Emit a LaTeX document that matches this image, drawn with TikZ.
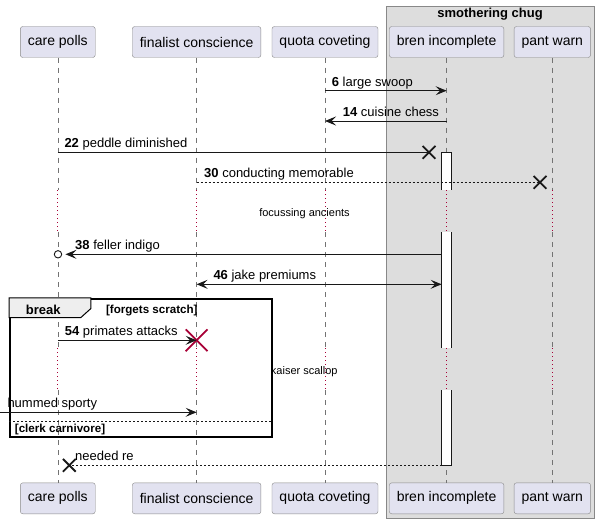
\documentclass[tikz,border=0pt]{standalone}
\usepackage{fontspec}
\setmainfont{Liberation Sans}
\usepackage{tikz}
\usetikzlibrary{arrows.meta}
\usetikzlibrary{shapes.misc}
\usetikzlibrary{positioning}
\usetikzlibrary{calc}
\definecolor{partfill}{HTML}{E2E2F0}
\definecolor{partline}{HTML}{888888}
\definecolor{chugfill}{HTML}{DDDDDD}
\definecolor{tabfill}{HTML}{EEEEEE}
\definecolor{umlred}{HTML}{A80036}
\definecolor{umlink}{HTML}{181818}
\tikzset{
  % Common looks for the sequence diagram
  >={Stealth[length=11pt,width=9pt,inset=4.5pt]},
  participant/.style={draw=partline, fill=partfill, rounded corners=2.5pt,
    minimum height=31pt, inner xsep=7.5pt, font=\fontsize{14}{16}\selectfont},
  lifeline/.style={draw=black!55, dash pattern=on 5pt off 5pt, line width=0.6pt},
  delayline/.style={draw=umlred, dash pattern=on 1pt off 3pt, line width=0.8pt},
  msg/.style={draw=umlink, line width=0.9pt},
  reply/.style={msg, dash pattern=on 2pt off 2pt},
  msglbl/.style={anchor=base west, inner sep=0pt, font=\fontsize{13}{15}\selectfont},
  delaylbl/.style={anchor=base, inner sep=0pt, font=\fontsize{11}{13}\selectfont},
  killmark/.style={cross out, draw=umlink, line width=1.8pt, minimum size=11pt, inner sep=0pt}
}

\begin{document}
\begin{tikzpicture}[
    x=1pt, y=-1pt,
    chugbox/.style={draw=partline, fill=chugfill, minimum width=208.6pt, minimum height=512.3pt, inner sep=0pt},
    actbar/.style={fill=white, minimum width=10pt, inner sep=0pt, outer sep=0pt},
    barside/.style={draw=umlink, line width=0.9pt},
    frame/.style={draw=black, line width=1.6pt, minimum width=261.7pt, minimum height=138pt, inner sep=0pt},
    tab/.style={draw=black, fill=tabfill, line width=1pt},
    bold/.style={inner sep=0pt, font=\bfseries\fontsize{#1}{#1}\selectfont}
]
\useasboundingbox (0,0) rectangle (599,524);

% Box around the last two participants
\node[chugbox] (chug) at (490,262.15) {};
\node[bold=13, anchor=base] (chugtitle) at (490,18) {smothering chug};

% Participants, top and bottom
\foreach \nm/\x/\lbl in {cp/57.8/care polls, fc/196.6/finalist conscience, qc/325/quota coveting,
                         bi/446.6/bren incomplete, pw/552.3/pant warn} {
  \node[participant] (\nm-top) at (\x,42) {\lbl};
  \node[participant] (\nm-bot) at (\x,498.3) {\lbl};
}

% Rows
\coordinate (r6) at (0,90.7);
\coordinate (r14) at (0,121);
\coordinate (r22) at (0,152.3);
\coordinate (r30) at (0,182.3);
\coordinate (d1s) at (0,190);
\coordinate (d1e) at (0,232);
\coordinate (r38) at (0,254.3);
\coordinate (r46) at (0,284.3);
\coordinate (r54) at (0,340.3);
\coordinate (d2s) at (0,348.3);
\coordinate (d2e) at (0,390);
\coordinate (edge) at (0,412.3);
\coordinate (relse) at (0,421.3);
\coordinate (r99) at (0,465.3);

% Lifelines
\foreach \nm in {cp,fc,qc,bi,pw} {
  \draw[lifeline] (\nm-top.south) -- (\nm-top.south |- d1s);
  \draw[delayline] (\nm-top.south |- d1s) -- (\nm-top.south |- d1e);
  \draw[lifeline] (\nm-top.south |- d1e) -- (\nm-top.south |- d2s);
  \draw[delayline] (\nm-top.south |- d2s) -- (\nm-top.south |- d2e);
  \draw[lifeline] (\nm-top.south |- d2e) -- (\nm-bot.north);
}

% Break frame
\node[frame] (brk) at (140.85,367.7) {};
\draw[tab] (brk.north west) -- ++(81.7,0) -- ++(0,10.6) -- ++(-10,9) -- ++(-71.7,0) -- cycle;
\node[bold=13, anchor=base] (brklbl) at (43.3,314) {break};
\node[bold=11.6, anchor=base] (guard1) at (151.8,313) {[forgets scratch]};
\draw[reply, line width=0.8pt] (brk.west |- relse) -- (brk.east |- relse);
\node[bold=11.6, anchor=base west] (guard2) at (14.7,432.5) {[clerk carnivore]};

% Activation of bren incomplete
\node[actbar, minimum height=37.7pt] (a1) at (446.6,171.15) {};
\node[actbar, minimum height=116.3pt] (a2) at (446.6,290.15) {};
\node[actbar, minimum height=75pt] (a3) at (446.6,427.5) {};
\draw[barside] (a1.south west) -- (a1.north west) -- (a1.north east) -- (a1.south east);
\draw[barside] (a2.north west) -- (a2.south west) (a2.north east) -- (a2.south east);
\draw[barside] (a3.north west) -- (a3.south west) -- (a3.south east) -- (a3.north east);

% Marks
\node[killmark] (x22) at (429,152.3) {};
\node[killmark] (x30) at (540,182.3) {};
\node[killmark] (x99) at (69.3,465.3) {};
\node[circle, draw=umlink, fill=white, line width=0.9pt, inner sep=0pt, minimum size=7.4pt] (o38) at (58,254.3) {};
\node[cross out, draw=umlred, line width=1.8pt, minimum size=20pt, inner sep=0pt] (k54) at (196.6,340.3) {};

% Messages
\draw[msg, ->] (qc-top.south |- r6) -- (bi-top.south |- r6);
\node[msglbl] (t6) at (331.7,86.2) {\textbf{6} large swoop};

\draw[msg, ->] (bi-top.south |- r14) -- (qc-top.south |- r14);
\node[msglbl] (t14) at (342.7,116.5) {\textbf{14} cuisine chess};

\draw[msg] (cp-top.south |- r22) -- (x22.center);
\node[msglbl] (t22) at (64.3,147.8) {\textbf{22} peddle diminished};

\draw[reply] (fc-top.south |- r30) -- (x30.center);
\node[msglbl] (t30) at (204,177.8) {\textbf{30} conducting memorable};

\node[delaylbl] (dl1) at (304.5,216) {focussing ancients};

\draw[msg, ->, shorten >=3.3pt] (a2.west |- r38) -- (o38.east);
\node[msglbl] (t38) at (75,249.8) {\textbf{38} feller indigo};

\draw[msg, <->] (fc-top.south |- r46) -- (a2.west |- r46);
\node[msglbl] (t46) at (213.3,279.8) {\textbf{46} jake premiums};

\draw[msg, ->] (cp-top.south |- r54) -- (k54.center);
\node[msglbl] (t54) at (64.7,335.8) {\textbf{54} primates attacks};

\node[delaylbl] (dl2) at (304.3,374) {kaiser scallop};

\draw[msg, ->] (edge) -- (fc-top.south |- edge);
\node[msglbl] (t62) at (7.3,407.8) {hummed sporty};

\draw[reply] (a3.west |- r99) -- (x99.center);
\node[msglbl] (t99) at (75,460.8) {needed re};

\end{tikzpicture}
\end{document}
